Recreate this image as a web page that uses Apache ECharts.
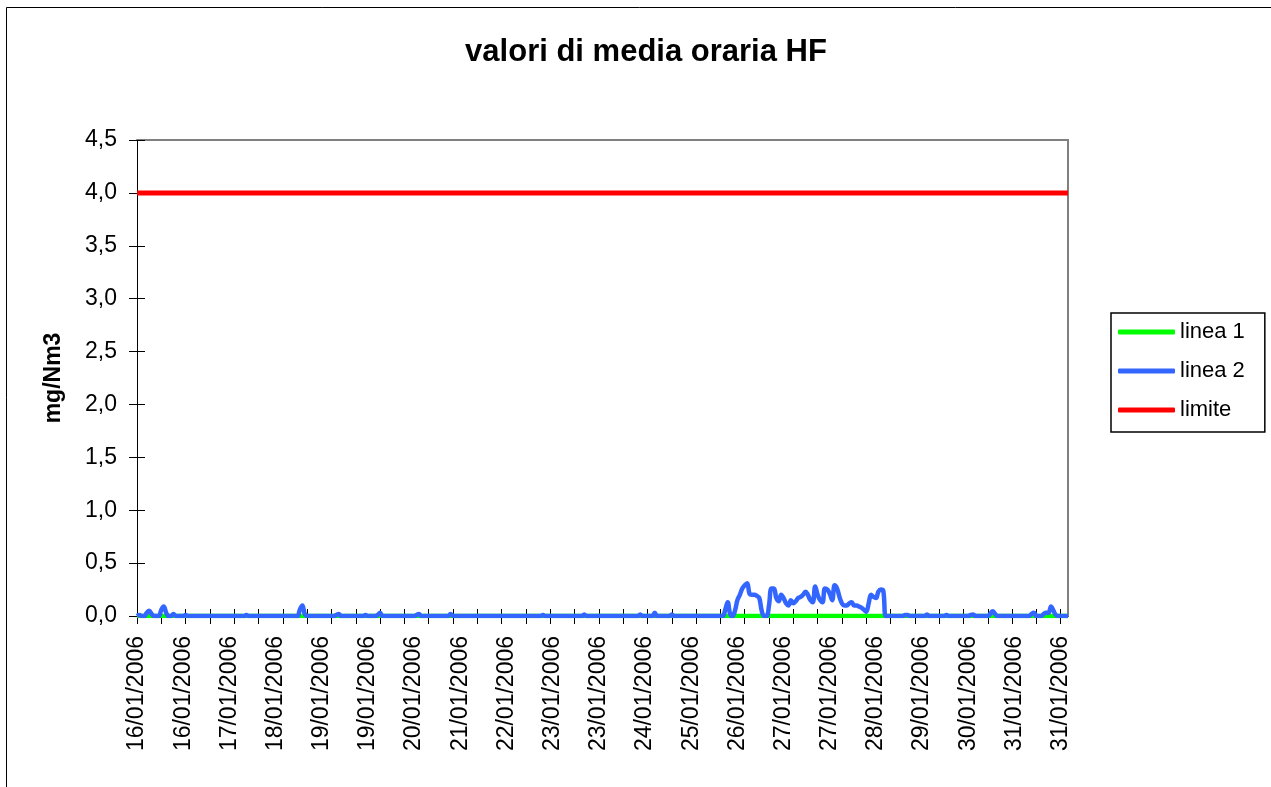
<!DOCTYPE html>
<html>
<head>
<meta charset="utf-8">
<title>valori di media oraria HF</title>
<script src="https://cdn.jsdelivr.net/npm/echarts@6/dist/echarts.min.js"></script>
<style>
  html, body { margin: 0; padding: 0; background: #fff; }
  #myChart { width: 1271px; height: 787px; }
</style>
</head>
<body>
<div id="myChart"></div>
<script>
// giorni del periodo (dati orari, 24 valori per giorno)
const days = [
  "16/01/2006", "17/01/2006", "18/01/2006", "19/01/2006",
  "20/01/2006", "21/01/2006", "22/01/2006", "23/01/2006",
  "24/01/2006", "25/01/2006", "26/01/2006", "27/01/2006",
  "28/01/2006", "29/01/2006", "30/01/2006", "31/01/2006",
];

// linea 2 - una riga per giorno, ore 00..23 (mg/Nm3)
const linea2ByDay = [
  [0, 0.01, 0, 0, 0.03, 0.05, 0.02, 0, 0, 0, 0.06, 0.09, 0.03, 0, 0, 0.02, 0, 0, 0, 0, 0.01, 0, 0, 0],
  [0, 0, 0, 0, 0, 0, 0, 0, 0, 0, 0, 0, 0, 0, 0, 0, 0, 0, 0, 0, 0, 0.01, 0, 0],
  [0, 0, 0, 0, 0, 0, 0, 0, 0, 0, 0, 0, 0, 0, 0, 0, 0, 0, 0, 0.06, 0.1, 0.02, 0, 0],
  [0, 0, 0, 0, 0, 0, 0, 0, 0, 0, 0.01, 0.02, 0, 0, 0, 0, 0, 0, 0, 0, 0, 0, 0.01, 0],
  [0, 0, 0, 0.01, 0.03, 0, 0, 0, 0, 0, 0, 0, 0, 0, 0, 0, 0, 0, 0, 0.01, 0.02, 0, 0, 0],
  [0, 0, 0, 0, 0, 0, 0, 0, 0, 0.02, 0, 0, 0, 0, 0, 0, 0, 0, 0, 0, 0, 0, 0, 0],
  [0, 0, 0, 0, 0, 0, 0, 0, 0, 0, 0, 0, 0, 0, 0, 0, 0, 0, 0, 0, 0, 0, 0, 0.01],
  [0, 0, 0, 0, 0, 0, 0, 0, 0, 0, 0, 0, 0, 0, 0, 0, 0.015, 0, 0, 0, 0, 0, 0, 0],
  [0, 0, 0, 0, 0, 0, 0, 0, 0, 0, 0, 0, 0, 0, 0, 0.015, 0, 0, 0, 0, 0, 0.03, 0, 0],
  [0, 0, 0, 0, 0.015, 0, 0, 0, 0, 0, 0, 0, 0, 0, 0, 0, 0, 0, 0, 0, 0, 0, 0, 0],
  [0, 0, 0.06, 0.13, 0.02, 0, 0.05, 0.15, 0.2, 0.26, 0.29, 0.31, 0.21, 0.2, 0.2, 0.19, 0.17, 0.05, 0, 0, 0.1, 0.26, 0.26, 0.17],
  [0.14, 0.2, 0.17, 0.12, 0.1, 0.15, 0.12, 0.14, 0.17, 0.18, 0.2, 0.23, 0.2, 0.15, 0.13, 0.28, 0.2, 0.15, 0.13, 0.26, 0.25, 0.21, 0.15, 0.29],
  [0.26, 0.18, 0.12, 0.1, 0.1, 0.12, 0.13, 0.1, 0.1, 0.09, 0.08, 0.06, 0.04, 0.12, 0.2, 0.18, 0.17, 0.23, 0.25, 0.24, 0, 0, 0, 0],
  [0, 0, 0, 0, 0.01, 0.01, 0, 0, 0, 0, 0, 0, 0, 0.015, 0, 0, 0, 0, 0, 0, 0, 0.01, 0, 0],
  [0, 0, 0, 0, 0, 0, 0, 0.01, 0.015, 0, 0, 0, 0, 0, 0, 0.02, 0.045, 0.02, 0, 0, 0, 0, 0, 0],
  [0, 0, 0, 0, 0, 0, 0, 0, 0.02, 0.03, 0, 0, 0, 0.02, 0.03, 0.03, 0.09, 0.05, 0.01, 0, 0, 0, 0, 0],
];

// linea 1 - sempre a zero nel periodo
const linea1ByDay = days.map(() => [0, 0, 0, 0, 0, 0, 0, 0, 0, 0, 0, 0, 0, 0, 0, 0, 0, 0, 0, 0, 0, 0, 0, 0]);

// limite di legge
const limiteValue = 4.0;

const yTicks = { min: 0, max: 4.5, interval: 0.5 };

// categorie orarie: ogni ora porta l'etichetta del suo giorno
const categories = [];
days.forEach((d) => {
  for (let h = 0; h < 24; h++) categories.push(d);
});
const linea2 = [].concat(...linea2ByDay);
const linea1 = [].concat(...linea1ByDay);
const limite = categories.map(() => limiteValue);

const font = "'Liberation Sans', Arial, sans-serif";

let myChart = echarts.init(document.getElementById("myChart"));
myChart.setOption({
  animation: false,
  backgroundColor: "#fff",
  title: {
    text: "valori di media oraria HF",
    left: 641,
    top: 32,
    textAlign: "center",
    textStyle: { fontFamily: font, fontSize: 31, fontWeight: "bold", color: "#000" },
  },
  graphic: [
    {
      type: "rect",
      shape: { x: 6.5, y: 7.5, width: 1400, height: 900 },
      style: { fill: null, stroke: "#000", lineWidth: 1 },
      silent: true,
    },
  ],
  legend: {
    orient: "vertical",
    left: 1111,
    top: 313,
    padding: [8, 20, 11, 7],
    itemGap: 17,
    itemWidth: 57,
    itemHeight: 5,
    icon: "roundRect",
    borderColor: "#000",
    borderWidth: 1.5,
    textStyle: { fontFamily: font, fontSize: 22, color: "#000", lineHeight: 22 },
    data: ["linea 1", "linea 2", "limite"],
  },
  grid: {
    left: 137,
    top: 140,
    right: 203,
    bottom: 171,
    outerBoundsMode: "none",
  },
  xAxis: [
    {
      type: "category",
      data: categories,
      boundaryGap: false,
      position: "bottom",
      axisLine: { lineStyle: { color: "#000", width: 1 } },
      axisTick: { interval: 9, length: 8, lineStyle: { color: "#000" } },
      axisLabel: {
        interval: 18,
        rotate: 90,
        margin: 20,
        fontFamily: font,
        fontSize: 23,
        color: "#000",
      },
    },
    {
      // tacche verso l'interno
      type: "category",
      data: categories,
      boundaryGap: false,
      position: "bottom",
      axisLine: { show: false },
      axisTick: { interval: 9, inside: true, length: 7, lineStyle: { color: "#000" } },
      axisLabel: { show: false },
    },
    {
      // bordo superiore dell'area del grafico
      type: "category",
      data: categories,
      boundaryGap: false,
      position: "top",
      axisLine: { onZero: false, lineStyle: { color: "#808080", width: 2 } },
      axisTick: { show: false },
      axisLabel: { show: false },
    },
  ],
  yAxis: [
    {
      type: "value",
      min: yTicks.min,
      max: yTicks.max,
      interval: yTicks.interval,
      position: "left",
      name: "mg/Nm3",
      nameLocation: "middle",
      nameRotate: 90,
      nameGap: 72,
      nameTextStyle: { fontFamily: font, fontSize: 23, fontWeight: "bold", color: "#000" },
      splitLine: { show: false },
      axisLine: { show: true, lineStyle: { color: "#000", width: 1 } },
      axisTick: { show: true, length: 8, lineStyle: { color: "#000" } },
      axisLabel: {
        margin: 20,
        fontFamily: font,
        fontSize: 23,
        color: "#000",
        formatter: (v) => v.toFixed(1).replace(".", ","),
      },
    },
    {
      type: "value",
      min: yTicks.min,
      max: yTicks.max,
      interval: yTicks.interval,
      position: "left",
      splitLine: { show: false },
      axisLine: { show: false },
      axisTick: { show: true, inside: true, length: 8, lineStyle: { color: "#000" } },
      axisLabel: { show: false },
    },
    {
      // bordo destro
      type: "value",
      min: yTicks.min,
      max: yTicks.max,
      interval: yTicks.interval,
      position: "right",
      splitLine: { show: false },
      axisLine: { show: true, onZero: false, lineStyle: { color: "#808080", width: 2 } },
      axisTick: { show: false },
      axisLabel: { show: false },
    },
  ],
  series: [
    {
      name: "linea 1",
      type: "line",
      data: linea1,
      symbol: "none",
      color: "#00ff00",
      lineStyle: { color: "#00ff00", width: 4.5 },
      z: 2,
    },
    {
      name: "linea 2",
      type: "line",
      data: linea2,
      symbol: "none",
      smooth: 0.4,
      color: "#3366ff",
      lineStyle: { color: "#3366ff", width: 4.5 },
      z: 3,
    },
    {
      name: "limite",
      type: "line",
      data: limite,
      symbol: "none",
      color: "#ff0000",
      lineStyle: { color: "#ff0000", width: 5 },
      z: 4,
    },
  ],
});
window.addEventListener("resize", function () {
  myChart.resize();
});
</script>
</body>
</html>
